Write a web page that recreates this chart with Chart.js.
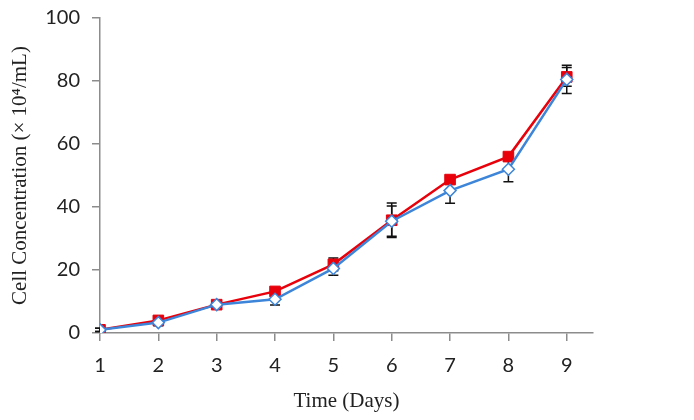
<!DOCTYPE html>
<html>
<head>
<meta charset="utf-8">
<script src="https://cdn.jsdelivr.net/npm/chart.js@4"></script>
<style>
  html, body { margin: 0; padding: 0; background: #fff; }
</style>
</head>
<body>
<canvas id="chart" width="694" height="420"></canvas>
<script>
// valores
const days = [1, 2, 3, 4, 5, 6, 7, 8, 9];
const redValues = [1, 4, 9, 13.2, 21.8, 35.8, 48.7, 56, 81.3];
const blueValues = [1, 3.3, 9, 10.7, 20.5, 35.5, 45.2, 52, 80.5];
const redErrors = [0.5, 1.2, 1, 1, 2, 5.5, 1.2, 1.2, 3];
const blueErrors = [0.5, 1, 1, 1.8, 2.2, 4.8, 4, 4, 4.5];
const yTicks = [0, 20, 40, 60, 80, 100];

const toPoints = (vals) => days.map((d, i) => ({ x: d, y: vals[i] }));

// barras de erro desenhadas por baixo dos marcadores
const errorBars = {
  id: 'errorBars',
  beforeDatasetsDraw(chart) {
    const ctx = chart.ctx;
    const xs = chart.scales.x, ys = chart.scales.y;
    const all = [redErrors, blueErrors];
    ctx.save();
    ctx.strokeStyle = '#111';
    ctx.lineWidth = 1.5;
    chart.data.datasets.forEach((ds, k) => {
      ds.data.forEach((p, i) => {
        const e = all[k][i];
        const px = xs.getPixelForValue(p.x);
        const top = ys.getPixelForValue(p.y + e);
        const bot = ys.getPixelForValue(p.y - e);
        ctx.beginPath();
        ctx.moveTo(px, top); ctx.lineTo(px, bot);
        ctx.moveTo(px - 5, top); ctx.lineTo(px + 5, top);
        ctx.moveTo(px - 5, bot); ctx.lineTo(px + 5, bot);
        ctx.stroke();
      });
    });
    ctx.restore();
  }
};

const ctx = document.getElementById('chart').getContext('2d');
new Chart(ctx, {
  type: 'line',
  data: {
    datasets: [
      {
        label: 'red',
        data: toPoints(redValues),
        order: 1, // azul fica por cima
        borderColor: '#e8000b',
        backgroundColor: '#e8000b',
        borderWidth: 2.5,
        pointStyle: 'rect',
        pointRadius: 7.5,
        pointBorderWidth: 1,
        pointBorderColor: '#e8000b',
        pointBackgroundColor: '#e8000b',
        tension: 0
      },
      {
        label: 'blue',
        data: toPoints(blueValues),
        order: 0,
        borderColor: '#3d85d8',
        backgroundColor: '#fff',
        borderWidth: 2.5,
        pointStyle: 'rectRot',
        pointRadius: 6,
        pointBorderWidth: 1.5,
        pointBorderColor: '#3d85d8',
        pointBackgroundColor: '#fff',
        tension: 0
      }
    ]
  },
  options: {
    responsive: false,
    animation: false,
    devicePixelRatio: 1,
    layout: { padding: { top: 18, right: 101, left: 8, bottom: 0 } },
    plugins: { legend: { display: false }, tooltip: { enabled: false } },
    scales: {
      x: {
        type: 'linear',
        min: 1,
        max: 9.45,
        afterBuildTicks(scale) { scale.ticks = days.map(v => ({ value: v })); },
        afterFit(scale) { scale.height = 87; },
        grid: { display: true, drawOnChartArea: false, drawTicks: true, tickLength: 8, color: '#8c8c8c', lineWidth: 1.5 },
        border: { color: '#8c8c8c', width: 1.5 },
        ticks: { color: '#222', font: { family: 'Lato', size: 20 }, padding: 13, maxRotation: 0, autoSkip: false },
        title: {
          display: true,
          text: 'Time (Days)',
          color: '#222',
          font: { family: 'Liberation Serif', size: 21 },
          padding: { top: 4, bottom: 6 }
        }
      },
      y: {
        min: 0,
        max: 100,
        afterBuildTicks(scale) { scale.ticks = yTicks.map(v => ({ value: v })); },
        afterFit(scale) { scale.width = 92; scale.paddingTop = 0; },
        grid: { display: true, drawOnChartArea: false, drawTicks: true, tickLength: 8, color: '#8c8c8c', lineWidth: 1.5 },
        border: { color: '#8c8c8c', width: 1.5 },
        ticks: { color: '#222', font: { family: 'Lato', size: 20 }, padding: 12, autoSkip: false },
        title: {
          display: true,
          text: 'Cell Concentration (× 10⁴/mL)',
          color: '#222',
          font: { family: 'Liberation Serif', size: 21 },
          padding: { top: 0, bottom: 4 }
        }
      }
    }
  },
  plugins: [errorBars]
});
</script>
</body>
</html>
